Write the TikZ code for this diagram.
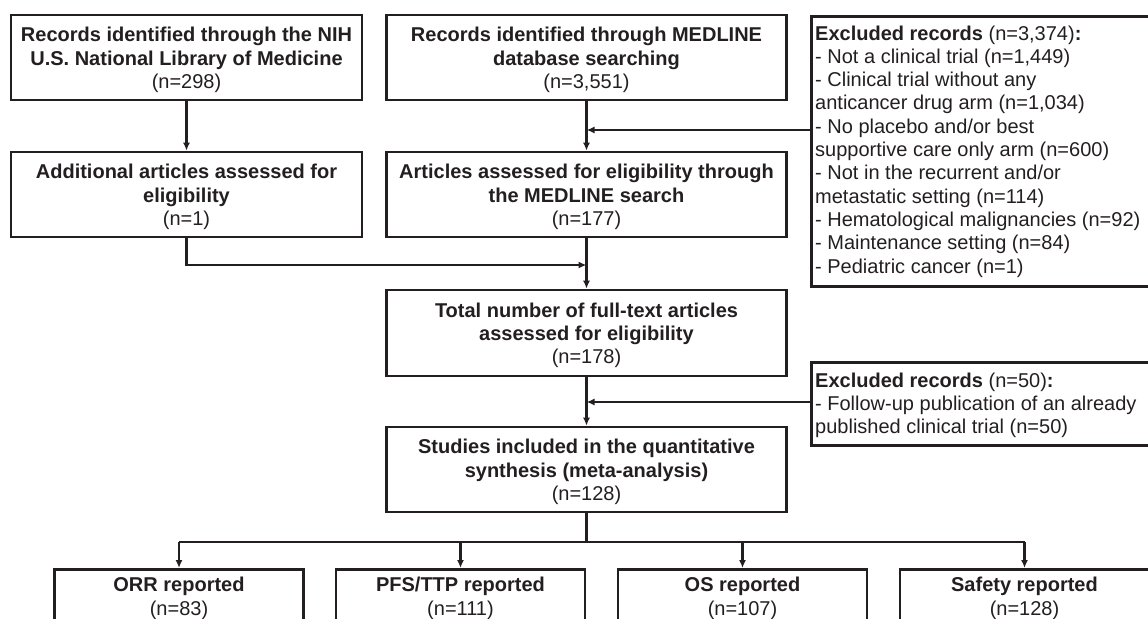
\documentclass[tikz,border=0pt]{standalone}
\usepackage{fontspec}
\setmainfont{Liberation Sans}
\usetikzlibrary{arrows.meta}
\definecolor{ink}{RGB}{35,31,32}
\begin{document}
\begin{tikzpicture}[x=1bp,y=-1bp,
  box/.style={draw=ink, line width=2.6bp, inner sep=0pt},
  txt/.style={text=ink, align=center, inner sep=0pt, font=\fontsize{20bp}{23.3bp}\selectfont},
  ltxt/.style={text=ink, align=left, inner sep=0pt, anchor=north west, font=\fontsize{20bp}{23.3bp}\selectfont},
  conn/.style={draw=ink, line width=2.2bp},
  arr/.style={conn, -{Latex[length=8bp,width=7bp]}}
]
\useasboundingbox (0,0) rectangle (1148,619);
\clip (0,0) rectangle (1148,619);

% main boxes
\node[box, minimum width=351bp, minimum height=85bp] (A) at (186.5,57.5) {};
\node[txt] (At) at (186.5,60) {\textbf{Records identified through the NIH}\\\textbf{U.S. National Library of Medicine}\\(n=298)};

\node[box, minimum width=400bp, minimum height=85bp] (B) at (586.5,57.5) {};
\node[txt] (Bt) at (586.5,60) {\textbf{Records identified through MEDLINE}\\\textbf{database searching}\\(n=3,551)};

\node[box, minimum width=351bp, minimum height=85bp] (C) at (186.5,194.5) {};
\node[txt] (Ct) at (186.5,197) {\textbf{Additional articles assessed for}\\\textbf{eligibility}\\(n=1)};

\node[box, minimum width=400bp, minimum height=85bp] (D) at (586.5,194.5) {};
\node[txt] (Dt) at (586.5,197) {\textbf{Articles assessed for eligibility through}\\\textbf{the MEDLINE search}\\(n=177)};

\node[box, minimum width=400bp, minimum height=86bp] (F) at (586.5,333) {};
\node[txt] (Ft) at (586.5,335.5) {\textbf{Total number of full-text articles}\\\textbf{assessed for eligibility}\\(n=178)};

\node[box, minimum width=400bp, minimum height=85bp] (S) at (586.5,469.5) {};
\node[txt] (St) at (586.5,472) {\textbf{Studies included in the quantitative}\\\textbf{synthesis (meta-analysis)}\\(n=128)};

% exclusion boxes
\node[box, anchor=north west, minimum width=360bp, minimum height=270bp] (E1) at (810,15) {};
\node[ltxt] (E1t) at (815,25.4) {\textbf{Excluded records} (n=3,374)\textbf{:}\\
- Not a clinical trial (n=1,449)\\
- Clinical trial without any\\
anticancer drug arm (n=1,034)\\
- No placebo and/or best\\
supportive care only arm (n=600)\\
- Not in the recurrent and/or\\
metastatic setting (n=114)\\
- Hematological malignancies (n=92)\\
- Maintenance setting (n=84)\\
- Pediatric cancer (n=1)};

\node[box, anchor=north west, minimum width=360bp, minimum height=83bp] (E2) at (810,361) {};
\node[ltxt] (E2t) at (815,372.4) {\textbf{Excluded records} (n=50)\textbf{:}\\
- Follow-up publication of an already\\
published clinical trial (n=50)};

% outcome boxes (cut by the lower edge)
\node[box, anchor=north, minimum width=249bp, minimum height=100bp] (ORR) at (179,568) {};
\node[txt] (ORRt) at (179,598.3) {\textbf{ORR reported}\\(n=83)};
\node[box, anchor=north, minimum width=249bp, minimum height=100bp] (PFS) at (460.5,568) {};
\node[txt] (PFSt) at (460.5,598.3) {\textbf{PFS/TTP reported}\\(n=111)};
\node[box, anchor=north, minimum width=249bp, minimum height=100bp] (OS) at (742.5,568) {};
\node[txt] (OSt) at (742.5,598.3) {\textbf{OS reported}\\(n=107)};
\node[box, anchor=north, minimum width=249bp, minimum height=100bp] (SAF) at (1024.5,568) {};
\node[txt] (SAFt) at (1024.5,598.3) {\textbf{Safety reported}\\(n=128)};

% junctions
\coordinate (j1) at (586.5,130);
\coordinate (j2) at (586.5,265);
\coordinate (j3) at (586.5,402);
\coordinate (j4) at (586.5,542);

% connectors
\draw[arr] (A.south) -- (C.north);
\draw[arr] (B.south) -- (D.north);
\draw[arr] (E1.west |- j1) -- (j1);
\draw[arr] (C.south) |- (j2);
\draw[arr] (D.south) -- (F.north);
\draw[arr] (F.south) -- (S.north);
\draw[arr] (E2.west |- j3) -- (j3);
\draw[conn, line width=2.6bp] (S.south) -- (j4);
\draw[conn] (ORR.north |- j4) -- (SAF.north |- j4);
\draw[arr] (ORR.north |- j4) -- (ORR.north);
\draw[arr] (PFS.north |- j4) -- (PFS.north);
\draw[arr] (OS.north |- j4) -- (OS.north);
\draw[arr] (SAF.north |- j4) -- (SAF.north);
\end{tikzpicture}
\end{document}
